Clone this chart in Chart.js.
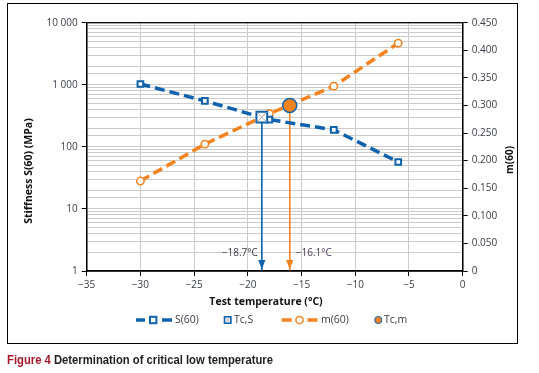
<!DOCTYPE html>
<html>
<head>
<meta charset="utf-8">
<script src="https://cdn.jsdelivr.net/npm/chart.js@4.4.1/dist/chart.umd.min.js"></script>
<style>
  html, body { margin: 0; padding: 0; background: #fff; }
  body { width: 539px; height: 373px; position: relative; overflow: hidden; }
  #frame { position: absolute; left: 7px; top: 3px; width: 509px; height: 339px; border: 1.3px solid #000; }
  #c { position: absolute; left: 0; top: 0; }
  #caption { position: absolute; left: 7px; top: 353px; font-family: "Liberation Sans", Arial, sans-serif; font-weight: bold; font-size: 12.5px; color: #231f20; white-space: nowrap; display: inline-block; transform-origin: 0 0; }
  #caption span { color: #a3192b; }
</style>
</head>
<body>
<div id="frame"></div>
<canvas id="c" width="539" height="373"></canvas>
<div id="caption"><span>Figure 4</span> Determination of critical low temperature</div>
<script>
// ---- data ----
const temps = [-30, -24, -18, -12, -6];
const stiffness = [1030, 550, 275, 188, 57];
const mValues = [0.163, 0.230, 0.285, 0.335, 0.413];
const tcS = [-18.7, 300];   // [temperature, stiffness]
const tcM = [-16.1, 0.300]; // [temperature, m-value]
const xTicks = [-35, -30, -25, -20, -15, -10, -5, 0];
const leftMajor = [1, 10, 100, 1000, 10000];
const leftLabels = ['1', '10', '100', '1 000', '10 000'];
const tcSLabel = '\u221218.7\u00B0C';
const tcMLabel = '\u221216.1\u00B0C';

const BLUE = '#0f62ad';
const ORANGE = '#f4821f';
const GRID = '#cbcbcb';
const TXT = '#3b3b48';
const FONT = '"Open Sans", "Noto Sans", sans-serif';

// fit caption width to the reference
(function () {
  const cap = document.getElementById('caption');
  const w = cap.getBoundingClientRect().width;
  cap.style.transform = 'scaleX(' + (266 / w) + ')';
})();

const sData = temps.map((t, i) => ({ x: t, y: stiffness[i] }));
const mData = temps.map((t, i) => ({ x: t, y: mValues[i] }));

const isMajorLog = v => leftMajor.includes(Math.round(v));

const overlay = {
  id: 'overlay',
  afterDatasetsDraw(chart) {
    const ctx = chart.ctx;
    const a = chart.chartArea;
    const xs = chart.scales.x;
    ctx.save();
    ctx.strokeStyle = '#000';
    ctx.lineWidth = 1.3;
    ctx.strokeRect(a.left, a.top, a.right - a.left, a.bottom - a.top);
    const arrow = (px, color) => {
      ctx.fillStyle = color;
      ctx.beginPath();
      ctx.moveTo(px - 3.6, a.bottom - 11);
      ctx.lineTo(px + 3.6, a.bottom - 11);
      ctx.lineTo(px, a.bottom - 1.5);
      ctx.closePath();
      ctx.fill();
    };
    const pxS = xs.getPixelForValue(tcS[0]);
    const pxM = xs.getPixelForValue(tcM[0]);
    arrow(pxS, BLUE);
    arrow(pxM, ORANGE);
    ctx.font = '10px ' + FONT;
    ctx.fillStyle = TXT;
    ctx.textBaseline = 'middle';
    ctx.textAlign = 'right';
    ctx.fillText(tcSLabel, pxS - 4, a.bottom - 18);
    ctx.fillStyle = '#4a3b5a';
    ctx.textAlign = 'left';
    ctx.fillText(tcMLabel, pxM + 6, a.bottom - 18);
    ctx.restore();
  },
  afterDraw(chart) {
    const ctx = chart.ctx;
    ctx.save();
    ctx.fillStyle = '#111';
    ctx.font = 'bold 10.5px ' + FONT;
    ctx.textAlign = 'center';
    ctx.textBaseline = 'middle';
    ctx.fillText('Test temperature (\u00B0C)', 266, 302);
    ctx.save();
    ctx.translate(29, 171);
    ctx.rotate(-Math.PI / 2);
    ctx.fillText('Stiffness S(60) (MPa)', 0, 0);
    ctx.restore();
    ctx.save();
    ctx.translate(510.5, 160);
    ctx.rotate(-Math.PI / 2);
    ctx.font = 'bold 10px ' + FONT;
    ctx.fillText('m(60)', 0, 0);
    ctx.restore();
    // legend
    const ly = 320;
    const dash = (x1, x2, c) => {
      ctx.strokeStyle = c; ctx.lineWidth = 3.5;
      ctx.beginPath(); ctx.moveTo(x1, ly); ctx.lineTo(x2, ly); ctx.stroke();
    };
    dash(136, 145, BLUE); dash(162, 172, BLUE);
    ctx.fillStyle = '#fff'; ctx.strokeStyle = BLUE; ctx.lineWidth = 2;
    ctx.fillRect(150, ly - 3.2, 6.4, 6.4); ctx.strokeRect(150, ly - 3.2, 6.4, 6.4);
    ctx.lineWidth = 1.6;
    ctx.fillStyle = '#fff';
    ctx.fillRect(224.5, ly - 3.2, 6.4, 6.4); ctx.strokeRect(224.5, ly - 3.2, 6.4, 6.4);
    ctx.strokeStyle = '#999'; ctx.lineWidth = 0.8;
    ctx.beginPath();
    ctx.moveTo(225.3, ly - 2.4); ctx.lineTo(230.1, ly + 2.4);
    ctx.moveTo(230.1, ly - 2.4); ctx.lineTo(225.3, ly + 2.4);
    ctx.stroke();
    dash(281.7, 291.7, ORANGE); dash(307.5, 317.5, ORANGE);
    ctx.fillStyle = '#fff'; ctx.strokeStyle = ORANGE; ctx.lineWidth = 1.5;
    ctx.beginPath(); ctx.arc(299.5, ly, 3.6, 0, Math.PI * 2); ctx.fill(); ctx.stroke();
    ctx.fillStyle = ORANGE; ctx.strokeStyle = BLUE; ctx.lineWidth = 1;
    ctx.beginPath(); ctx.arc(378.3, ly, 3.6, 0, Math.PI * 2); ctx.fill(); ctx.stroke();
    ctx.fillStyle = TXT;
    ctx.font = '10.5px ' + FONT;
    ctx.textAlign = 'left';
    ctx.fillText('S(60)', 175, ly);
    ctx.fillText('Tc,S', 234, ly);
    ctx.fillText('m(60)', 321, ly);
    ctx.fillText('Tc,m', 384, ly);
    ctx.restore();
  }
};

new Chart(document.getElementById('c'), {
  type: 'line',
  data: {
    datasets: [
      { label: 'Tc,S', data: [{ x: tcS[0], y: tcS[1] }], yAxisID: 'y', order: 0,
        showLine: false, pointStyle: 'rect', pointRadius: 7.6, borderWidth: 2,
        pointBackgroundColor: '#fff', pointBorderColor: BLUE },
      { label: 'Tc,S x', data: [{ x: tcS[0], y: tcS[1] }], yAxisID: 'y', order: -1,
        showLine: false, pointStyle: 'crossRot', pointRadius: 7, borderWidth: 1,
        pointBorderColor: '#aaa' },
      { label: 'Tc,m', data: [{ x: tcM[0], y: tcM[1] }], yAxisID: 'y2', order: 0,
        showLine: false, pointStyle: 'circle', pointRadius: 7, borderWidth: 1.5,
        pointBackgroundColor: ORANGE, pointBorderColor: BLUE },
      { label: 'S(60)', data: sData, yAxisID: 'y', order: 1,
        borderColor: BLUE, borderWidth: 3.5, borderDash: [10, 5], tension: 0,
        pointStyle: 'rect', pointRadius: 4, pointBorderWidth: 2,
        pointBackgroundColor: '#fff', pointBorderColor: BLUE },
      { label: 'm(60)', data: mData, yAxisID: 'y2', order: 2,
        borderColor: ORANGE, borderWidth: 3.5, borderDash: [10, 5], tension: 0,
        pointStyle: 'circle', pointRadius: 3.7, pointBorderWidth: 1.5,
        pointBackgroundColor: '#fff', pointBorderColor: ORANGE },
      { label: 'dropS', data: [{ x: tcS[0], y: tcS[1] }, { x: tcS[0], y: 1 }], yAxisID: 'y', order: 3,
        borderColor: BLUE, borderWidth: 1, pointRadius: 0 },
      { label: 'dropM', data: [{ x: tcM[0], y: tcM[1] }, { x: tcM[0], y: 0 }], yAxisID: 'y2', order: 3,
        borderColor: ORANGE, borderWidth: 1, pointRadius: 0 }
    ]
  },
  options: {
    responsive: false,
    animation: false,
    layout: { padding: { top: 22.7, left: 0, right: 0, bottom: 0 } },
    plugins: { legend: { display: false }, tooltip: { enabled: false } },
    elements: { line: { borderCapStyle: 'butt' } },
    scales: {
      x: {
        type: 'linear', min: -35, max: 0,
        afterBuildTicks: s => { s.ticks = xTicks.map(v => ({ value: v })); },
        afterFit: s => { s.height = 102; },
        grid: { color: GRID, lineWidth: 1, tickLength: 5, tickColor: '#000', tickWidth: 1 },
        border: { color: '#000', width: 1.3 },
        ticks: { padding: 3, color: TXT, font: { family: FONT, size: 10 },
          callback: v => v < 0 ? '\u2212' + Math.abs(v) : String(v) }
      },
      y: {
        type: 'logarithmic', position: 'left', min: 1, max: 10000,
        afterFit: s => { s.width = 86.7; },
        grid: { color: GRID, lineWidth: 1, tickLength: 5, tickWidth: 1,
          tickColor: c => (c.tick && isMajorLog(c.tick.value)) ? '#000' : 'rgba(0,0,0,0)' },
        border: { color: '#000', width: 1.3 },
        ticks: { padding: 4, color: TXT, font: { family: FONT, size: 10 }, autoSkip: false,
          callback: v => { const i = leftMajor.indexOf(Math.round(v)); return (i >= 0 && isMajorLog(v)) ? leftLabels[i] : ''; } }
      },
      y2: {
        type: 'linear', position: 'right', min: 0, max: 0.45,
        afterBuildTicks: s => { const t = []; for (let i = 0; i <= 9; i++) t.push({ value: +(i * 0.05).toFixed(2) }); s.ticks = t; },
        afterFit: s => { s.width = 539 - 462.7; },
        grid: { drawOnChartArea: false, tickLength: 5, tickColor: '#000', tickWidth: 1 },
        border: { color: '#000', width: 1.3 },
        ticks: { padding: 4, color: TXT, font: { family: FONT, size: 10 },
          callback: v => v === 0 ? '0' : v.toFixed(3) }
      }
    }
  },
  plugins: [overlay]
});
</script>
</body>
</html>
